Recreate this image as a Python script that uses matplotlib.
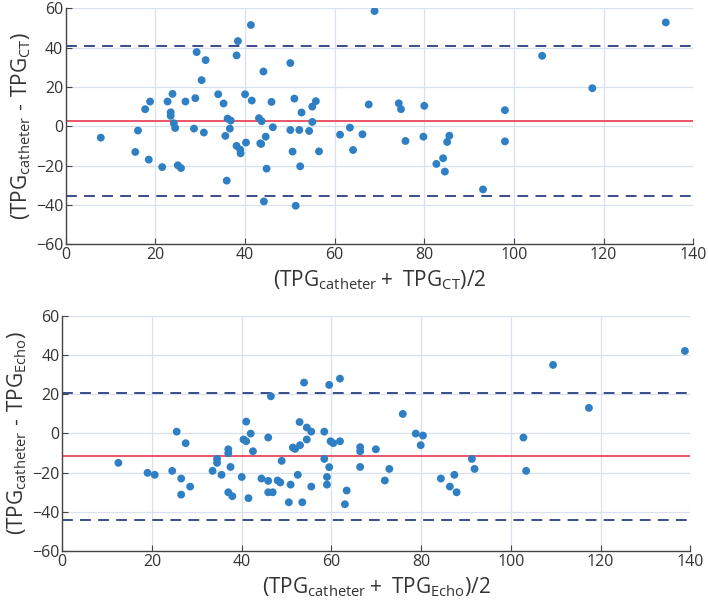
import numpy as np
import matplotlib
matplotlib.use("Agg")
import matplotlib.pyplot as plt

plt.rcParams['font.family'] = ['Open Sans', 'DejaVu Sans']
plt.rcParams['mathtext.fontset'] = 'custom'
plt.rcParams['mathtext.rm'] = 'Open Sans'
plt.rcParams['mathtext.it'] = 'Open Sans'

# catheter vs CT
ct_mean = [7.8, 16.1, 15.5, 17.7, 18.8, 18.5, 21.5, 22.7, 23.8, 23.4, 23.4, 24.1, 24.4, 25.0, 25.7,
           26.7, 28.6, 28.9, 29.2, 30.3, 30.8, 31.2, 34.0, 35.2, 35.6, 35.9, 36.1, 36.6, 36.8, 38.1,
           38.4, 38.1, 38.9, 39.0, 40.0, 40.2, 41.3, 41.5, 43.1, 43.4, 43.6, 43.7, 44.1, 44.2, 44.6,
           44.8, 45.9, 46.2, 50.1, 51.0, 52.6, 50.1, 52.1, 50.6, 52.3, 51.3, 55.0, 55.8, 55.0, 54.3,
           56.5, 61.2, 63.4, 64.1, 66.2, 67.6, 68.9, 74.3, 74.8, 75.8, 79.8, 80.0, 82.7, 84.2, 84.6,
           85.1, 85.6, 93.1, 98.0, 98.0, 106.3, 117.5, 133.9]
ct_diff = [-5.8, -2.2, -13.1, 8.7, 12.6, -17.0, -20.8, 12.6, 16.5, 7.1, 5.3, 1.5, -0.9, -19.9, -21.3,
           12.6, -1.2, 14.3, 37.8, 23.5, -3.2, 33.7, 16.3, 11.6, -4.9, -27.7, 3.9, -1.2, 2.9, 36.1,
           43.4, -10.0, -11.9, -13.8, 16.3, -8.3, 51.6, 13.1, 4.1, -8.7, -9.0, 2.6, 27.9, -38.3, -5.3,
           -21.6, 12.4, -0.5, 32.2, 14.1, 7.0, -1.9, -1.9, -12.9, -20.4, -40.5, 10.0, 12.8, 2.2, -2.4,
           -12.8, -4.3, -0.7, -12.1, -4.1, 11.1, 58.7, 11.7, 8.7, -7.5, -5.3, 10.4, -19.2, -16.3, -23.1,
           -8.0, -4.8, -32.2, 8.2, -7.7, 35.9, 19.4, 52.9]
ct_bias = 2.6
ct_upper = 40.9
ct_lower = -35.7

# catheter vs Echo
echo_mean = [12.5, 19.0, 20.6, 24.5, 25.5, 26.5, 26.5, 27.5, 28.5, 33.5, 34.5, 34.5, 35.5, 37.0, 37.0,
             37.0, 37.5, 37.9, 40.0, 40.4, 41.0, 41.0, 41.5, 42.0, 42.5, 44.4, 45.9, 45.9, 45.9, 46.5,
             46.9, 48.0, 48.6, 48.9, 50.5, 50.9, 51.4, 51.9, 52.5, 52.9, 53.0, 53.5, 53.9, 54.5, 54.5,
             55.5, 55.5, 58.4, 58.4, 59.0, 59.0, 59.5, 59.5, 59.8, 60.4, 61.9, 61.9, 63.0, 63.4, 66.4,
             66.4, 66.4, 69.9, 71.9, 72.9, 75.9, 78.8, 80.4, 79.9, 84.4, 86.4, 87.4, 87.9, 91.3, 91.9,
             102.8, 103.4, 109.4, 117.4, 138.8]
echo_diff = [-15.0, -20.1, -21.1, -19.1, 0.9, -23.0, -31.2, -5.0, -27.1, -19.1, -13.0, -15.0, -21.1, -8.1, -10.1,
             -30.0, -17.1, -32.0, -22.2, -3.1, -4.0, 6.0, -33.0, -0.1, -9.1, -23.0, -24.2, -30.0, -2.1, 18.9,
             -30.0, -24.0, -25.0, -14.0, -35.1, -26.1, -7.2, -7.9, -21.1, 5.8, -6.0, -35.1, 25.9, 3.0, -3.1,
             0.9, -27.1, 0.9, -13.0, -22.2, -26.1, 24.7, -17.2, -4.0, -5.0, 27.9, -4.0, -36.1, -29.1, -7.0,
             -9.1, -17.1, -8.1, -24.0, -18.1, 9.9, -0.1, -1.1, -6.0, -23.0, -27.1, -21.1, -30.0, -13.0, -18.1,
             -2.1, -19.1, 34.9, 13.0, 42.0]
echo_bias = -11.7
echo_upper = 20.5
echo_lower = -44.1

dot_color = '#2e7fc4'
bias_color = '#e8384f'
loa_color = '#2b3f7e'


def bland_altman(ax, xs, ys, bias, upper, lower, ylab, xlab):
    ax.grid(True, color='#d9e1f1', linewidth=0.9)
    ax.set_axisbelow(True)
    ax.axhline(bias, color=bias_color, linewidth=1.2, zorder=2)
    ax.axhline(upper, color=loa_color, linewidth=1.3, linestyle=(0, (6, 4)), zorder=2)
    ax.axhline(lower, color=loa_color, linewidth=1.3, linestyle=(0, (6, 4)), zorder=2)
    ax.scatter(xs, ys, s=32, color=dot_color, edgecolors='none', zorder=3)
    ax.set_xlim(0, 140)
    ax.set_ylim(-60, 60)
    ax.set_xticks(np.arange(0, 141, 20))
    ax.set_yticks(np.arange(-60, 61, 20))
    for s in ['top', 'right']:
        ax.spines[s].set_visible(False)
    for s in ['left', 'bottom']:
        ax.spines[s].set_color('#444444')
        ax.spines[s].set_linewidth(1.0)
    ax.tick_params(direction='in', length=4, color='#444444', labelsize=11.5,
                   labelcolor='#333333', pad=2)
    ax.set_ylabel(ylab, fontsize=15, color='#333333', labelpad=2)
    ax.set_xlabel(xlab, fontsize=15, color='#333333', labelpad=4)


fig = plt.figure(figsize=(7.08, 6.07), dpi=100)
ax1 = fig.add_axes([0.093, 0.598, 0.886, 0.388])
ax2 = fig.add_axes([0.088, 0.092, 0.887, 0.388])

bland_altman(ax1, ct_mean, ct_diff, ct_bias, ct_upper, ct_lower,
             '$\\left(\\mathrm{TPG_{catheter}\\ \u2010\\ TPG_{CT}}\\right)$',
             r'$\left(\mathrm{TPG_{catheter}+\ TPG_{CT}}\right)\mathrm{/2}$')
bland_altman(ax2, echo_mean, echo_diff, echo_bias, echo_upper, echo_lower,
             '$\\left(\\mathrm{TPG_{catheter}\\ \u2010\\ TPG_{Echo}}\\right)$',
             r'$\left(\mathrm{TPG_{catheter}+\ TPG_{Echo}}\right)\mathrm{/2}$')

fig.savefig('out.png', dpi=100)
